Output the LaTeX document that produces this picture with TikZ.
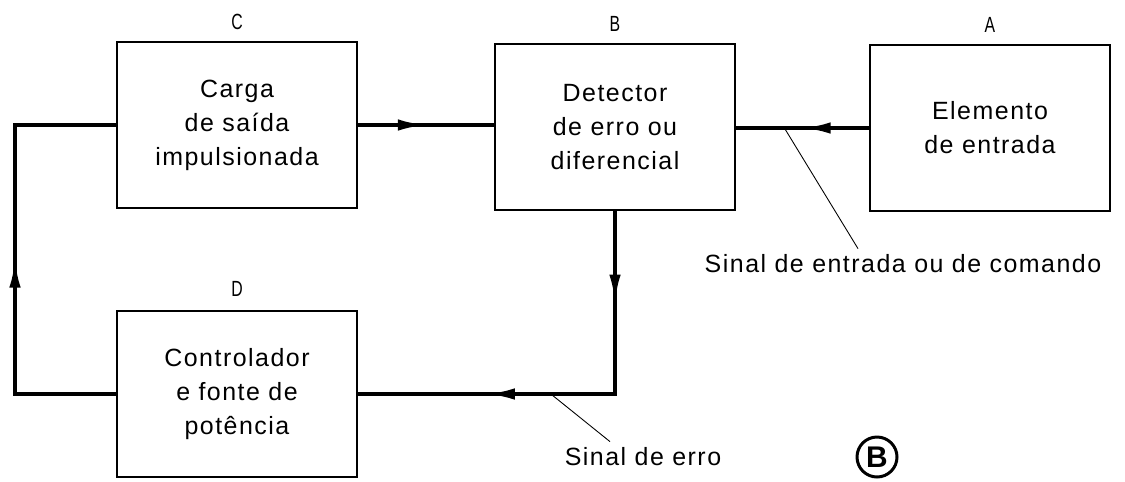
\documentclass[tikz,border=0pt]{standalone}
\usepackage{fontspec}
\setmainfont{Liberation Sans}[LetterSpace=6]
\newfontfamily\tagfont{Liberation Sans}[FakeStretch=0.72]
\usetikzlibrary{positioning,calc,arrows.meta,decorations.markings}

\begin{document}
\begin{tikzpicture}[
        x=0.02cm, y=-0.02cm,
        block/.style={draw, line width=1.6pt, minimum width=4.8cm, minimum height=3.32cm,
            align=center, font=\fontsize{14.2}{19.3}\selectfont},
        tag/.style={inner sep=0pt, font=\tagfont\fontsize{12.5}{14}\selectfont},
        wire/.style={draw, line width=2pt, line cap=rect},
        flow/.style={wire, postaction={decorate},
            decoration={markings, mark=at position 0.5 with {\arrow{Latex[length=16pt,width=6.5pt]}}}},
        leader/.style={draw, line width=0.5pt},
        note/.style={font=\fontsize{14.2}{17}\selectfont}
    ]
        \useasboundingbox (0,0) rectangle (1125,481);

        % blocos
        \node[block] (C) at (237,125) {Carga\\de saída\\impulsionada};
        \node[block] (B) at (615,127) {Detector\\de erro ou\\diferencial};
        \node[block] (A) at (990,128) {Elemento\\de entrada};
        \node[block] (D) at (237,394) {Controlador\\e fonte de\\potência};

        \node[tag, above=6pt of C] (tagC) {C};
        \node[tag, above=6pt of B] (tagB) {B};
        \node[tag, above=6pt of A] (tagA) {A};
        \node[tag, above=7pt of D] (tagD) {D};

        % sinais
        \draw[flow] (C.east) -- (C.east -| B.west);
        \draw[flow] (A.west) -- (A.west -| B.east);
        \coordinate (errcorner) at (B.south |- D.east);
        \draw[flow] (B.south) -- (errcorner);
        \draw[flow] (errcorner) -- (D.east);
        \coordinate (fbx) at (15,0);
        \coordinate (fbbot) at (fbx |- D.west);
        \coordinate (fbtop) at (fbx |- C.west);
        \draw[wire] (D.west) -- (fbbot);
        \draw[flow] (fbbot) -- (fbtop);
        \draw[wire] (fbtop) -- (C.west);

        % legendas
        \node[note] (sigin) at (903,264) {Sinal de entrada ou de comando};
        \node[note] (sigerr) at (643,457) {Sinal de erro};
        \coordinate (pinin) at ($(B.east)!0.36!(A.west)$);
        \coordinate (pinerr) at ($(errcorner)!0.25!(D.east)$);
        \draw[leader] (pinin) -- ([xshift=-0.9cm]sigin.north);
        \draw[leader] (pinerr) -- ([xshift=-0.66cm]sigerr.north);

        \node[circle, draw, line width=1.7pt, inner sep=0pt, minimum size=0.8cm,
            font=\bfseries\fontsize{17}{17}\selectfont] (panel) at (877,457) {B};
    \end{tikzpicture}
\end{document}
